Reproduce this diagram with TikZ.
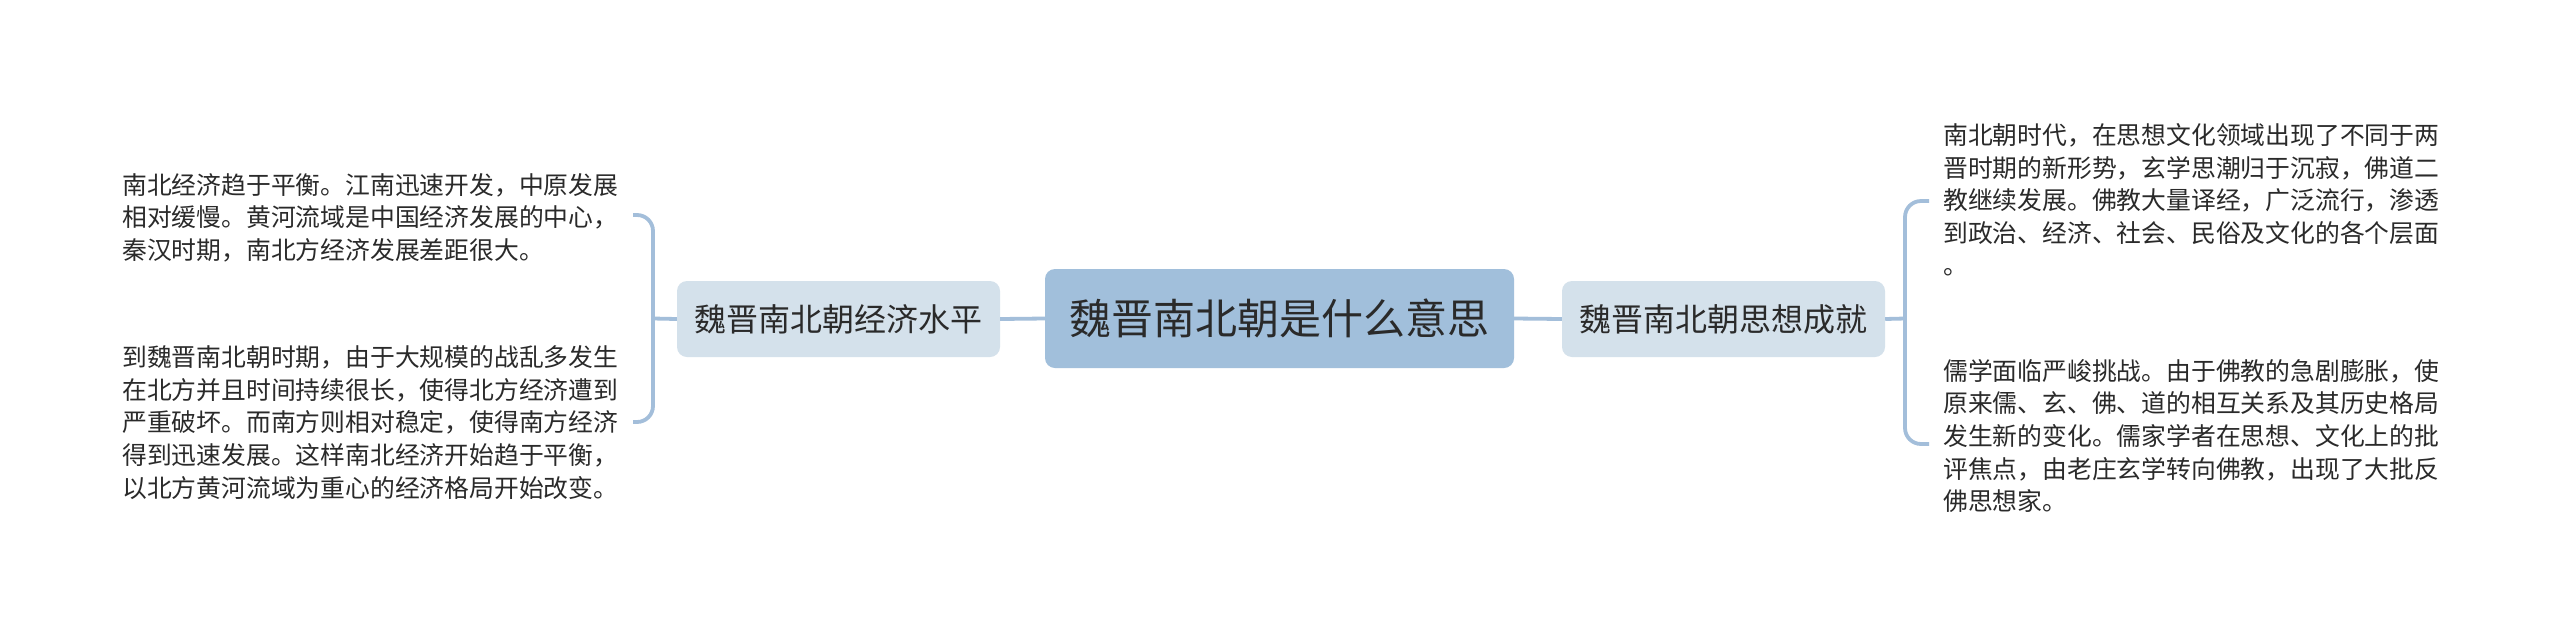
\documentclass[tikz,border=0pt]{standalone}
\usepackage{fontspec}
\setmainfont{Noto Sans CJK SC}
\definecolor{rootfill}{HTML}{A1BFDB}
\definecolor{branchfill}{HTML}{D4E1EB}
\definecolor{linec}{HTML}{A3BEDA}
\definecolor{textc}{HTML}{2A2A2A}
\begin{document}
\begin{tikzpicture}[x=1pt,y=-1pt,
  rootbox/.style={rectangle, rounded corners=10pt, fill=rootfill, minimum width=469pt, minimum height=99pt, inner sep=0pt, text=textc, font=\fontsize{42}{42}\selectfont},
  branchbox/.style={rectangle, rounded corners=10pt, fill=branchfill, minimum width=323pt, minimum height=76pt, inner sep=0pt, text=textc, font=\fontsize{32}{32}\selectfont},
  leaftext/.style={anchor=west, align=left, inner sep=0pt, text=textc, font=\fontsize{24.8}{32.6}\selectfont},
  conn/.style={draw=linec, line width=3.8pt},
  bracket/.style={conn, rounded corners=16pt}]
\useasboundingbox (0,0) rectangle (2560,638);
\fill[white] (0,0) rectangle (2560,638);

\node[rootbox] (root) at (1279.5,318.5) {魏晋南北朝是什么意思};
\node[branchbox] (econ) at (838.5,319) {魏晋南北朝经济水平};
\node[branchbox] (thought) at (1723.5,319) {魏晋南北朝思想成就};

\node[leaftext] (l1) at (122,217.5) {南北经济趋于平衡。江南迅速开发，中原发展\\相对缓慢。黄河流域是中国经济发展的中心，\\秦汉时期，南北方经济发展差距很大。};
\node[leaftext] (l2) at (122,422.5) {到魏晋南北朝时期，由于大规模的战乱多发生\\在北方并且时间持续很长，使得北方经济遭到\\严重破坏。而南方则相对稳定，使得南方经济\\得到迅速发展。这样南北经济开始趋于平衡，\\以北方黄河流域为重心的经济格局开始改变。};
\node[leaftext] (r1) at (1943,200) {南北朝时代，在思想文化领域出现了不同于两\\晋时期的新形势，玄学思潮归于沉寂，佛道二\\教继续发展。佛教大量译经，广泛流行，渗透\\到政治、经济、社会、民俗及文化的各个层面\\。};
\node[leaftext] (r2) at (1943,436) {儒学面临严峻挑战。由于佛教的急剧膨胀，使\\原来儒、玄、佛、道的相互关系及其历史格局\\发生新的变化。儒家学者在思想、文化上的批\\评焦点，由老庄玄学转向佛教，出现了大批反\\佛思想家。};

\coordinate (jL) at (653,318.5);
\coordinate (jR) at (1905,318.5);
\coordinate (l1end) at (633,215);
\coordinate (l2end) at (633,422);
\coordinate (r1end) at (1929,201);
\coordinate (r2end) at (1929,444);

\draw[conn] (root.west) -- (econ.east);
\draw[conn] (root.east) -- (thought.west);
\draw[conn] (econ.west) -- (jL);
\draw[conn] (thought.east) -- (jR);
\draw[bracket] (l1end) -| (jL) |- (l2end);
\draw[bracket] (r1end) -| (jR) |- (r2end);
\end{tikzpicture}
\end{document}
